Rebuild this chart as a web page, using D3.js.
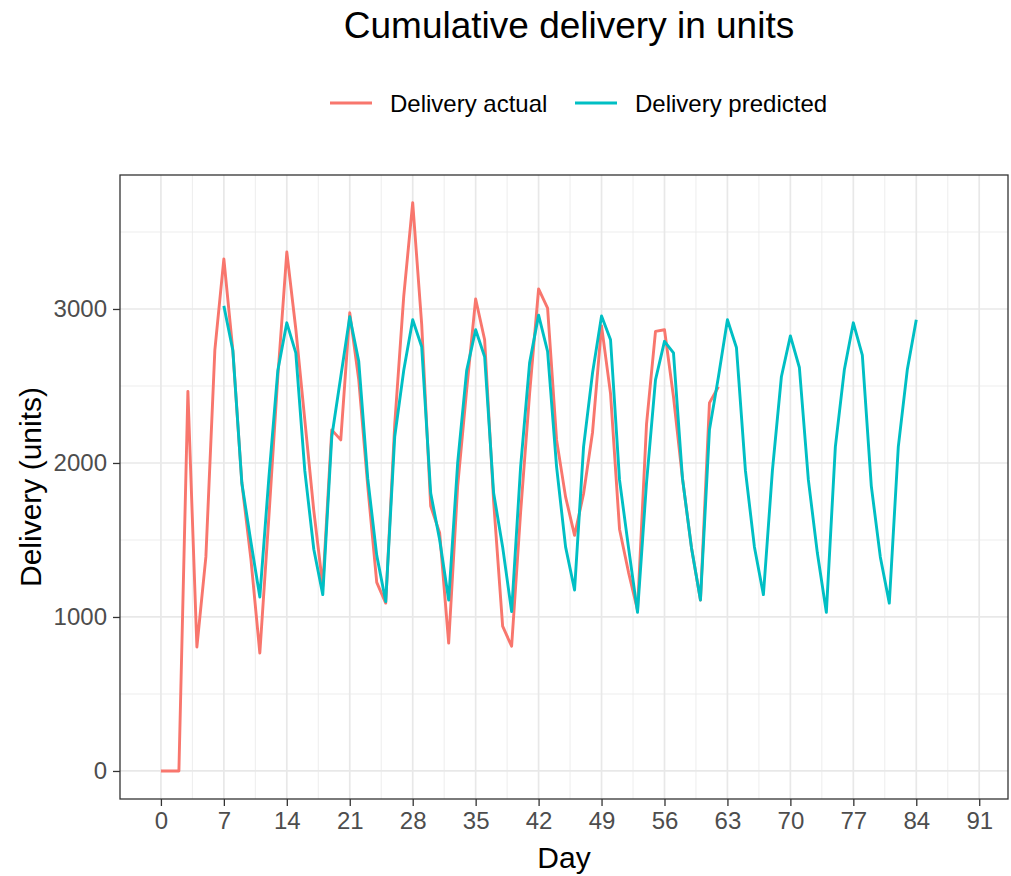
<!DOCTYPE html>
<html>
<head>
<meta charset="utf-8">
<script src="https://cdn.jsdelivr.net/npm/d3@7"></script>
<style>
  html, body { margin: 0; padding: 0; background: #ffffff; }
  svg { display: block; font-family: "Liberation Sans", Arial, Helvetica, sans-serif; }
</style>
</head>
<body>
<svg id="chart" width="1011" height="876"></svg>
<script>
// Daily deliveries (units)
const actualDays = d3.range(0, 63);
const actualValues = [
  0, 0, 0, 2465, 805, 1390, 2735, 3325, 2730, 1870,
  1380, 766, 1645, 2560, 3370, 2870, 2280, 1690, 1200, 2215,
  2150, 2975, 2540, 1850, 1225, 1090, 2250, 3080, 3690, 2900,
  1720, 1545, 830, 1850, 2475, 3065, 2800, 1750, 940, 810,
  1680, 2450, 3130, 3005, 2150, 1780, 1530, 1800, 2200, 2890,
  2450, 1570, 1290, 1045, 2250, 2855, 2865, 2430, 1900, 1450,
  1110, 2390, 2495
];

const predictedDays = d3.range(7, 85);
const predictedValues = [
  3020, 2730, 1870, 1490, 1130, 1900, 2600,
  2910, 2715, 1950, 1440, 1145, 2170, 2560,
  2950, 2660, 1900, 1400, 1100, 2170, 2600,
  2930, 2755, 1805, 1500, 1110, 2000, 2600,
  2865, 2690, 1805, 1455, 1035, 1975, 2650,
  2960, 2725, 1975, 1455, 1175, 2105, 2585,
  2955, 2800, 1890, 1450, 1030, 1870, 2540,
  2790, 2715, 1900, 1450, 1110, 2215, 2560,
  2930, 2750, 1950, 1455, 1145, 1950, 2560,
  2825, 2620, 1890, 1415, 1030, 2105, 2605,
  2910, 2700, 1850, 1390, 1090, 2105, 2605,
  2930
];

const xTicks = d3.range(0, 92, 7);
const yTicks = [0, 1000, 2000, 3000];
const xMinor = d3.range(3.5, 92, 7);
const yMinor = [500, 1500, 2500, 3500];

const seriesNames = ["Delivery actual", "Delivery predicted"];
const seriesColors = ["#F8766D", "#00BFC4"];

const svg = d3.select("#chart");
const panel = { left: 120, right: 1008, top: 175, bottom: 799 };

const x = d3.scaleLinear().domain([-4.55, 94.2]).range([panel.left, panel.right]);
const y = d3.scaleLinear().domain([-182, 3870]).range([panel.bottom, panel.top]);

// Gridlines
const grid = svg.append("g");
grid.selectAll(".xminor").data(xMinor).join("line")
  .attr("x1", d => x(d)).attr("x2", d => x(d))
  .attr("y1", panel.top).attr("y2", panel.bottom)
  .attr("stroke", "#EBEBEB").attr("stroke-width", 0.9);
grid.selectAll(".yminor").data(yMinor).join("line")
  .attr("x1", panel.left).attr("x2", panel.right)
  .attr("y1", d => y(d)).attr("y2", d => y(d))
  .attr("stroke", "#EBEBEB").attr("stroke-width", 0.9);
grid.selectAll(".xmajor").data(xTicks).join("line")
  .attr("x1", d => x(d)).attr("x2", d => x(d))
  .attr("y1", panel.top).attr("y2", panel.bottom)
  .attr("stroke", "#E8E8E8").attr("stroke-width", 1.7);
grid.selectAll(".ymajor").data(yTicks).join("line")
  .attr("x1", panel.left).attr("x2", panel.right)
  .attr("y1", d => y(d)).attr("y2", d => y(d))
  .attr("stroke", "#E8E8E8").attr("stroke-width", 1.7);

// Series lines
const line = d3.line().x(d => x(d[0])).y(d => y(d[1]));
const actual = actualDays.map((d, i) => [d, actualValues[i]]);
const predicted = predictedDays.map((d, i) => [d, predictedValues[i]]);

svg.append("path").datum(actual)
  .attr("d", line).attr("fill", "none")
  .attr("stroke", seriesColors[0]).attr("stroke-width", 2.9)
  .attr("stroke-linejoin", "round");
svg.append("path").datum(predicted)
  .attr("d", line).attr("fill", "none")
  .attr("stroke", seriesColors[1]).attr("stroke-width", 2.9)
  .attr("stroke-linejoin", "round");

// Panel border
svg.append("rect")
  .attr("x", panel.left).attr("y", panel.top)
  .attr("width", panel.right - panel.left).attr("height", panel.bottom - panel.top)
  .attr("fill", "none").attr("stroke", "#333333").attr("stroke-width", 1.3);

// Axes
const xAxis = svg.append("g")
  .attr("transform", `translate(0,${panel.bottom})`)
  .call(d3.axisBottom(x).tickValues(xTicks).tickSize(7).tickPadding(6).tickFormat(d3.format("d")));
const yAxis = svg.append("g")
  .attr("transform", `translate(${panel.left},0)`)
  .call(d3.axisLeft(y).tickValues(yTicks).tickSize(7).tickPadding(6).tickFormat(d3.format("d")));
[xAxis, yAxis].forEach(g => {
  g.select(".domain").remove();
  g.selectAll(".tick line").attr("stroke", "#333333").attr("stroke-width", 1.3);
  g.selectAll(".tick text")
    .attr("fill", "#4D4D4D")
    .style("font-size", "24px")
    .style("font-family", "'Liberation Sans', Arial, Helvetica, sans-serif");
});

// Axis titles
svg.append("text")
  .attr("x", (panel.left + panel.right) / 2).attr("y", 868)
  .attr("text-anchor", "middle").attr("fill", "#000")
  .style("font-size", "30px").text("Day");
svg.append("text")
  .attr("transform", `translate(41,${(panel.top + panel.bottom) / 2}) rotate(-90)`)
  .attr("text-anchor", "middle").attr("fill", "#000")
  .style("font-size", "30px").text("Delivery (units)");

// Title
svg.append("text")
  .attr("x", 569).attr("y", 38)
  .attr("text-anchor", "middle").attr("fill", "#000")
  .style("font-size", "37px").text("Cumulative delivery in units");

// Legend
const legend = svg.append("g");
const legendItems = [
  { x: 330, name: seriesNames[0], color: seriesColors[0] },
  { x: 575, name: seriesNames[1], color: seriesColors[1] }
];
legendItems.forEach(item => {
  legend.append("line")
    .attr("x1", item.x).attr("x2", item.x + 42)
    .attr("y1", 103).attr("y2", 103)
    .attr("stroke", item.color).attr("stroke-width", 2.9);
  legend.append("text")
    .attr("x", item.x + 60).attr("y", 112)
    .attr("fill", "#000").style("font-size", "24px")
    .text(item.name);
});
</script>
</body>
</html>
